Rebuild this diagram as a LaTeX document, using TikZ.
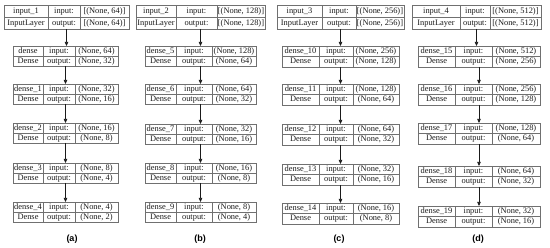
\documentclass[tikz,border=0pt]{standalone}
\usepackage{fontspec}
\setmainfont{Liberation Serif}
\newfontfamily\krlabelfont{Liberation Sans}
\usetikzlibrary{arrows.meta}
\usetikzlibrary{positioning}
\usetikzlibrary{fit}
\definecolor{krLine}{HTML}{707070}
\definecolor{krText}{HTML}{1a1a1a}
\definecolor{krArrow}{HTML}{1a1a1a}
\tikzset{
  kr cell/.style={
    rectangle,
    draw=krLine,
    line width=0.65pt,
    outer sep=0pt,
    inner xsep=0.8pt,
    inner ysep=0pt,
    minimum height=\krh,
    text=krText,
    text height=5.9pt,
    text depth=1.8pt,
    font=\fontsize{8.4}{9.5}\selectfont,
  },
}
\tikzset{
  kr frame/.style={
    rectangle,
    inner sep=0pt,
    outer sep=0pt,
  },
}
\tikzset{
  kr link/.style={
    -{Triangle[length=4pt,width=3.4pt]},
    draw=krArrow,
    line width=0.7pt,
  },
}
\tikzset{
  kr caption/.style={
    font=\krlabelfont\bfseries\fontsize{9}{10}\selectfont,
    text=black,
  },
}
% one Keras layer record: name / type | input: / output: | shapes
\newcommand{\krlayer}[7]{%
  \node[kr cell, minimum width=\kwa, anchor=north west] (#1-n) at (#2,#3) {#4};
  \node[kr cell, minimum width=\kwa, below=0pt of #1-n] (#1-t) {#5};
  \node[kr cell, minimum width=\kwb, right=0pt of #1-n] (#1-ik) {input:};
  \node[kr cell, minimum width=\kwb, below=0pt of #1-ik] (#1-ok) {output:};
  \node[kr cell, minimum width=\kwc, right=0pt of #1-ik] (#1-iv) {#6};
  \node[kr cell, minimum width=\kwc, below=0pt of #1-iv] (#1-ov) {#7};
  \node[kr frame, fit=(#1-n)(#1-ov)] (#1) {};
}

\begin{document}
\begin{tikzpicture}[x=1pt, y=-1pt]

  \useasboundingbox (0,0) rectangle (550,248);

  % =========================================================================
  % (a) 64 -> 32 -> 16 -> 8 -> 4 -> 2
  % =========================================================================
  \def\krh{12pt}\def\kwa{44pt}\def\kwb{32pt}\def\kwc{49pt}
  \krlayer{in1}{4}{5}{input\_1}{InputLayer}{[(None, 64)]}{[(None, 64)]}
  \def\krh{10pt}\def\kwa{30pt}\def\kwb{32pt}\def\kwc{43pt}
  \krlayer{d0}{13}{46}{dense}{Dense}{(None, 64)}{(None, 32)}
  \krlayer{d1}{13}{84}{dense\_1}{Dense}{(None, 32)}{(None, 16)}
  \krlayer{d2}{13}{123}{dense\_2}{Dense}{(None, 16)}{(None, 8)}
  \krlayer{d3}{13}{163}{dense\_3}{Dense}{(None, 8)}{(None, 4)}
  \krlayer{d4}{13}{202}{dense\_4}{Dense}{(None, 4)}{(None, 2)}

  \draw[kr link] (in1.south) -- (in1.south |- d0.north);
  \draw[kr link] (d0.south) -- (d0.south |- d1.north);
  \draw[kr link] (d1.south) -- (d1.south |- d2.north);
  \draw[kr link] (d2.south) -- (d2.south |- d3.north);
  \draw[kr link] (d3.south) -- (d3.south |- d4.north);

  \node[kr caption] (capa) at (72,239) {(a)};

  % =========================================================================
  % (b) 128 -> 64 -> 32 -> 16 -> 8 -> 4
  % =========================================================================
  \def\krh{12pt}\def\kwa{40pt}\def\kwb{41pt}\def\kwc{48pt}
  \krlayer{in2}{136}{5}{input\_2}{InputLayer}{[(None, 128)]}{[(None, 128)]}
  \def\krh{10pt}\def\kwa{31pt}\def\kwb{36pt}\def\kwc{44pt}
  \krlayer{d5}{145}{46}{dense\_5}{Dense}{(None, 128)}{(None, 64)}
  \krlayer{d6}{145}{84}{dense\_6}{Dense}{(None, 64)}{(None, 32)}
  \krlayer{d7}{145}{124}{dense\_7}{Dense}{(None, 32)}{(None, 16)}
  \krlayer{d8}{145}{163}{dense\_8}{Dense}{(None, 16)}{(None, 8)}
  \krlayer{d9}{145}{202}{dense\_9}{Dense}{(None, 8)}{(None, 4)}

  \draw[kr link] (in2.south) -- (in2.south |- d5.north);
  \draw[kr link] (d5.south) -- (d5.south |- d6.north);
  \draw[kr link] (d6.south) -- (d6.south |- d7.north);
  \draw[kr link] (d7.south) -- (d7.south |- d8.north);
  \draw[kr link] (d8.south) -- (d8.south |- d9.north);

  \node[kr caption] (capb) at (200,239) {(b)};

  % =========================================================================
  % (c) 256 -> 128 -> 64 -> 32 -> 16 -> 8
  % =========================================================================
  \def\krh{12pt}\def\kwa{45pt}\def\kwb{34pt}\def\kwc{48pt}
  \krlayer{in3}{277}{5}{input\_3}{InputLayer}{[(None, 256)]}{[(None, 256)]}
  \def\krh{10.5pt}\def\kwa{37pt}\def\kwb{34pt}\def\kwc{46pt}
  \krlayer{d10}{282}{46}{dense\_10}{Dense}{(None, 256)}{(None, 128)}
  \krlayer{d11}{282}{84}{dense\_11}{Dense}{(None, 128)}{(None, 64)}
  \krlayer{d12}{282}{124}{dense\_12}{Dense}{(None, 64)}{(None, 32)}
  \krlayer{d13}{282}{164}{dense\_13}{Dense}{(None, 32)}{(None, 16)}
  \krlayer{d14}{282}{203}{dense\_14}{Dense}{(None, 16)}{(None, 8)}

  \draw[kr link] (in3.south) -- (in3.south |- d10.north);
  \draw[kr link] (d10.south) -- (d10.south |- d11.north);
  \draw[kr link] (d11.south) -- (d11.south |- d12.north);
  \draw[kr link] (d12.south) -- (d12.south |- d13.north);
  \draw[kr link] (d13.south) -- (d13.south |- d14.north);

  \node[kr caption] (capc) at (339,239) {(c)};

  % =========================================================================
  % (d) 512 -> 256 -> 128 -> 64 -> 32 -> 16
  % =========================================================================
  \def\krh{12pt}\def\kwa{48pt}\def\kwb{30pt}\def\kwc{51pt}
  \krlayer{in4}{412}{5}{input\_4}{InputLayer}{[(None, 512)]}{[(None, 512)]}
  \def\krh{10.5pt}\def\kwa{37pt}\def\kwb{37pt}\def\kwc{48pt}
  \krlayer{d15}{418}{46}{dense\_15}{Dense}{(None, 512)}{(None, 256)}
  \krlayer{d16}{418}{84}{dense\_16}{Dense}{(None, 256)}{(None, 128)}
  \krlayer{d17}{418}{123}{dense\_17}{Dense}{(None, 128)}{(None, 64)}
  \krlayer{d18}{418}{166}{dense\_18}{Dense}{(None, 64)}{(None, 32)}
  \krlayer{d19}{418}{206}{dense\_19}{Dense}{(None, 32)}{(None, 16)}

  \draw[kr link] (in4.south) -- (in4.south |- d15.north);
  \draw[kr link] (d15.south) -- (d15.south |- d16.north);
  \draw[kr link] (d16.south) -- (d16.south |- d17.north);
  \draw[kr link] (d17.south) -- (d17.south |- d18.north);
  \draw[kr link] (d18.south) -- (d18.south |- d19.north);

  \node[kr caption] (capd) at (478,239) {(d)};

\end{tikzpicture}
\end{document}
